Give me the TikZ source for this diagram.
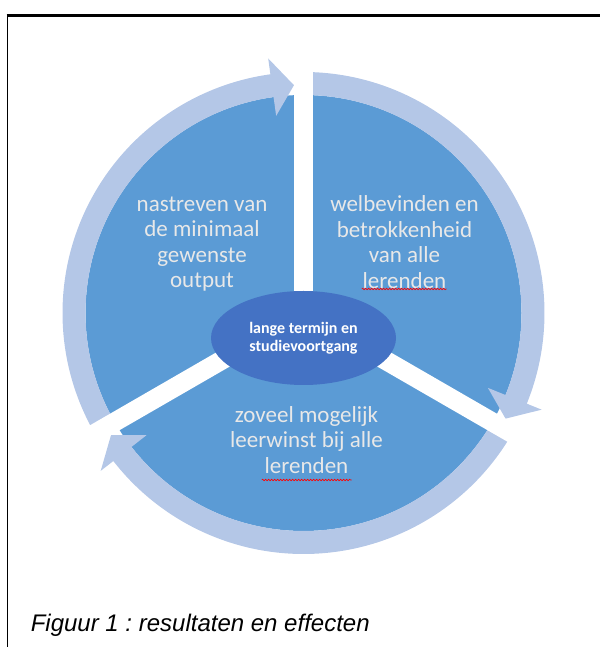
\documentclass[tikz,border=0pt]{standalone}
\usepackage{fontspec}
\setmainfont{Carlito}
\newfontfamily\capfont{Liberation Sans}
\usetikzlibrary{calc,shapes.geometric,decorations.pathmorphing}
\definecolor{midblue}{HTML}{5B9BD5}
\definecolor{lightblue}{HTML}{B4C7E7}
\definecolor{darkblue}{HTML}{4472C4}
\definecolor{segtext}{HTML}{E8E8E8}
\frenchspacing
\begin{document}
\begin{tikzpicture}[x=1pt,y=1pt,
  segtxt/.style={text=segtext, align=center, font=\fontsize{23}{25.5}\selectfont, inner sep=0pt},
  ringarrow/.style={fill=lightblue},
  gapband/.style={fill=white},
  spell/.style={draw=red, line width=0.6pt, decorate, decoration={snake, amplitude=0.8pt, segment length=3pt}}]
\useasboundingbox (0,0) rectangle (600,647);
\coordinate (C) at (303.5,334);
% disk
\fill[midblue] (C) circle (218);
% ring arrows (clockwise)
\foreach \t/\b/\s in {90/-22.1/-27.6, 210/97.9/92.4, 330/217.9/212.4}{
  \fill[ringarrow] ($(C)+(\t:241)$) arc[start angle=\t, end angle=\b, radius=241]
    -- ($(C)+(\b:257)$) -- ($(C)+(\s:228)$) -- ($(C)+(\b:199)$) -- ($(C)+(\b:218)$)
    arc[start angle=\b, end angle=\t, radius=218] -- cycle;
}
% gaps
\foreach \g in {90,210,330}{
  \begin{scope}[shift={(C)}, rotate=\g]
    \fill[gapband] (0,-9.5) rectangle (270,9.5);
  \end{scope}
}
% centre
\node[ellipse, fill=darkblue, minimum width=185pt, minimum height=94pt, inner sep=0pt,
      text=white, align=center, font=\bfseries\fontsize{16}{18}\selectfont] (core) at (303.5,309)
      {lange termijn en\\studievoortgang};
% segment texts
\node[segtxt] (lt) at (202,403) {nastreven van\\de minimaal\\gewenste\\output};
\node[segtxt] (rt) at (404.5,405) {welbevinden en\\betrokkenheid\\van alle\\lerenden};
\node[segtxt] (bt) at (306.5,207) {zoveel mogelijk\\leerwinst bij alle\\lerenden};
\draw[spell] (361.7,358) -- (446.7,358);
\draw[spell] (261.7,167) -- (351.7,167);
% caption
\node[anchor=base west, inner sep=0pt, font=\capfont\itshape\fontsize{24}{28}\selectfont] (cap) at (30.6,16)
  {Figuur 1 : resultaten en effecten};
% frame
\draw[line width=2.2pt] (6.5,631.5) -- (600,631.5);
\draw[line width=1.5pt] (7.5,0) -- (7.5,632.5);
\end{tikzpicture}
\end{document}
